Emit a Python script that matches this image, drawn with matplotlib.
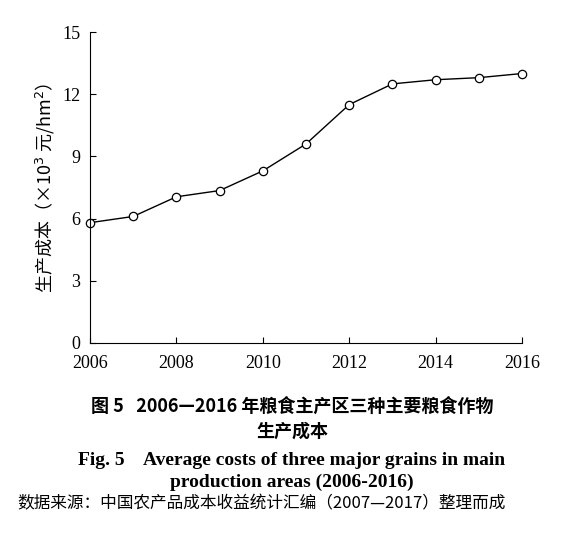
import matplotlib
matplotlib.use("Agg")
import matplotlib.pyplot as plt

# ============ DATA ============
years = [2006, 2007, 2008, 2009, 2010, 2011, 2012, 2013, 2014, 2015, 2016]
costs = [5.8, 6.1, 7.05, 7.35, 8.3, 9.6, 11.5, 12.5, 12.7, 12.8, 13.0]
x_ticks = [2006, 2008, 2010, 2012, 2014, 2016]
y_ticks = [0, 3, 6, 9, 12, 15]

plt.rcParams["font.family"] = ["Liberation Serif", "Noto Sans CJK SC", "DejaVu Sans"]

fig = plt.figure(figsize=(5.84, 5.53), dpi=100)
ax = fig.add_axes([0.154, 0.380, 0.740, 0.562])
ax.plot(years, costs, color="black", lw=1.0, marker="o", ms=6,
        markerfacecolor="white", markeredgecolor="black", markeredgewidth=0.9, clip_on=False)
ax.set_xlim(2006, 2016)
ax.set_ylim(0, 15)
ax.set_xticks(x_ticks)
ax.set_yticks(y_ticks)
ax.tick_params(direction="in", labelsize=13, length=4)
ax.tick_params(axis="x", pad=9)
ax.tick_params(axis="y", pad=7)
for s in ["top", "right"]:
    ax.spines[s].set_visible(False)
ax.set_ylabel("生产成本（×10$^3$ 元/hm$^2$）", fontsize=13,
              family=["Noto Sans CJK SC", "DejaVu Sans"])

cjk = ["Noto Sans CJK SC", "DejaVu Sans"]
fig.text(0.5, 0.255, "图 5   2006—2016 年粮食主产区三种主要粮食作物", ha="center",
         fontsize=13, fontweight="bold", family=cjk)
fig.text(0.5, 0.21, "生产成本", ha="center", fontsize=13, fontweight="bold", family=cjk)
fig.text(0.5, 0.16, "Fig. 5    Average costs of three major grains in main", ha="center",
         fontsize=14, fontweight="bold", family="Liberation Serif")
fig.text(0.5, 0.12, "production areas (2006-2016)", ha="center",
         fontsize=14, fontweight="bold", family="Liberation Serif")
fig.text(0.03, 0.08, "数据来源：中国农产品成本收益统计汇编（2007—2017）整理而成", ha="left",
         fontsize=12, family=cjk)

fig.savefig("out.png", dpi=100, facecolor="white")
